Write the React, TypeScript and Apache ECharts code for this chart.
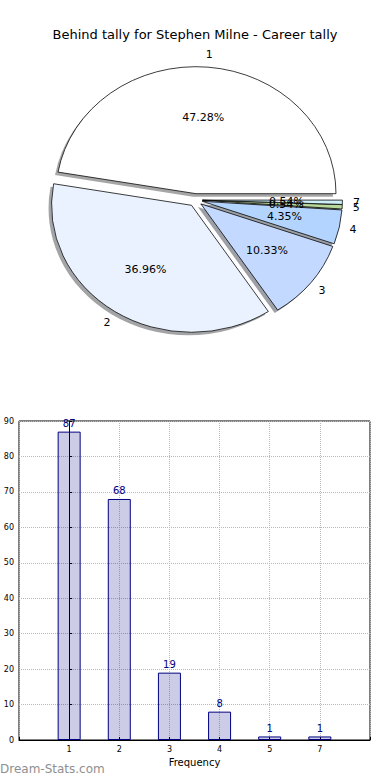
import React, { useEffect, useRef } from "react";
import * as echarts from "echarts";

const titleText = "Behind tally for Stephen Milne - Career tally";
const categories = ["1", "2", "3", "4", "5", "7"];
const counts = [87, 68, 19, 8, 1, 1];
const sliceColors = ["#FFFFFF", "#EBF2FF", "#C3D9FF", "#B3D4FF", "#B8D99A", "#CDEDF7"];
const yTicks = [0, 10, 20, 30, 40, 50, 60, 70, 80, 90];

const FONT = "DejaVu Sans";

function hexToRgb(h: string) {
  const n = parseInt(h.slice(1), 16);
  return [(n >> 16) & 255, (n >> 8) & 255, n & 255];
}

export default function App() {
  const ref = useRef<HTMLDivElement>(null);
  useEffect(() => {
    if (!ref.current) return;
    const chart = echarts.init(ref.current, undefined, { renderer: "svg" });
    const CX = 195.4;
    const CY = 200;
    const RX = 140;
    const RY = 127;
    const EXPLODE = 0.05;
    const SHADOW = 3;
    const total = counts.reduce((a, b) => a + b, 0);

    const renderSlice = (params: any, api: any) => {
      const i = params.dataIndex;
      let before = 0;
      for (let k = 0; k < i; k++) before += counts[k];
      const v = api.value(0);
      const a0 = (before / total) * Math.PI * 2;
      const a1 = ((before + v) / total) * Math.PI * 2;
      const mid = (a0 + a1) / 2;
      const ox = CX + EXPLODE * RX * Math.cos(mid);
      const oy = CY - EXPLODE * RY * Math.sin(mid);
      const sy = RY / RX;
      const shape = { cx: 0, cy: 0, r: RX, r0: 0, startAngle: -a0, endAngle: -a1, clockwise: false };
      const rgb = hexToRgb(sliceColors[i]);
      const shadowFill = `rgba(${Math.round(rgb[0] * 0.3)},${Math.round(rgb[1] * 0.3)},${Math.round(rgb[2] * 0.3)},0.5)`;
      const pct = ((v / total) * 100).toFixed(2) + "%";
      return {
        type: "group",
        children: [
          {
            type: "sector",
            x: ox - SHADOW,
            y: oy + SHADOW,
            scaleY: sy,
            shape,
            z2: 1,
            style: { fill: shadowFill, stroke: "none" },
          },
          {
            type: "sector",
            x: ox,
            y: oy,
            scaleY: sy,
            shape,
            z2: 10,
            style: { fill: sliceColors[i], stroke: "#000", lineWidth: 0.8, strokeNoScale: true },
          },
          {
            type: "text",
            x: ox + 0.6 * RX * Math.cos(mid),
            y: oy - 0.6 * RY * Math.sin(mid),
            z2: 20,
            style: {
              text: pct,
              fontFamily: FONT,
              fontSize: 11,
              fill: "#000",
              align: "center",
              verticalAlign: "middle",
            },
          },
          {
            type: "text",
            x: ox + 1.1 * RX * Math.cos(mid),
            y: oy - 1.1 * RY * Math.sin(mid),
            z2: 20,
            style: {
              text: categories[i],
              fontFamily: FONT,
              fontSize: 11,
              fill: "#000",
              align: "center",
              verticalAlign: "middle",
            },
          },
        ],
      };
    };

    chart.setOption({
      animation: false,
      title: {
        text: titleText,
        left: "center",
        top: 23,
        textStyle: { fontFamily: FONT, fontSize: 13, fontWeight: "normal", color: "#000" },
      },
      grid: [
        {
          left: 19,
          right: 20,
          top: 421,
          height: 319,
          show: true,
          borderColor: "#000",
          borderWidth: 1,
          backgroundColor: "transparent",
        },
      ],
      xAxis: [
        {
          type: "value",
          gridIndex: 0,
          min: -1,
          max: 6,
          interval: 1,
          axisLine: { show: true, lineStyle: { color: "#000" } },
          axisTick: { show: true, inside: true, length: 3, lineStyle: { color: "#000" } },
          axisLabel: {
            fontFamily: FONT,
            fontSize: 8,
            color: "#000",
            margin: 5,
            formatter: (v: number) => (categories[v] !== undefined ? categories[v] : ""),
          },
          splitLine: { show: true, lineStyle: { color: "#b8b8b8", type: "dotted", width: 1 } },
          name: "Frequency",
          nameLocation: "middle",
          nameGap: 17,
          nameTextStyle: { fontFamily: FONT, fontSize: 10, color: "#000" },
        },
      ],
      yAxis: [
        {
          type: "value",
          gridIndex: 0,
          min: 0,
          max: 90,
          interval: 10,
          axisLine: { show: true, lineStyle: { color: "#000" } },
          axisTick: { show: true, inside: true, length: 3, lineStyle: { color: "#000" } },
          axisLabel: {
            fontFamily: FONT,
            fontSize: 8,
            color: "#000",
            margin: 5,
            formatter: (v: number) => (yTicks.includes(v) ? String(v) : ""),
          },
          splitLine: { show: true, lineStyle: { color: "#b8b8b8", type: "dotted", width: 1 } },
        },
      ],
      series: [
        {
          type: "custom",
          name: "pie",
          coordinateSystem: "none",
          silent: true,
          data: counts.map((c) => [c]),
          renderItem: renderSlice,
        },
        {
          type: "bar",
          xAxisIndex: 0,
          yAxisIndex: 0,
          barWidth: 23,
          data: categories.map((c, i) => [i, counts[i]]),
          itemStyle: {
            color: "rgba(0,0,128,0.2)",
            borderColor: "#000080",
            borderWidth: 1,
          },
          label: {
            show: true,
            position: "top",
            distance: 3,
            fontFamily: FONT,
            fontSize: 10,
            color: "#000080",
            formatter: (p: any) => String(p.value[1]),
          },
          emphasis: { disabled: true },
        },
      ],
      graphic: [
        {
          type: "text",
          left: 0,
          top: 763,
          style: {
            text: "Dream-Stats.com",
            fontFamily: FONT,
            fontSize: 12,
            fontWeight: "normal",
            fill: "#8f8f8f",
          },
        },
      ],
    });
    return () => chart.dispose();
  }, []);
  return (
    <div
      ref={ref}
      style={{ position: "fixed", left: 0, top: 0, width: 390, height: 780, background: "#fff" }}
    />
  );
}
